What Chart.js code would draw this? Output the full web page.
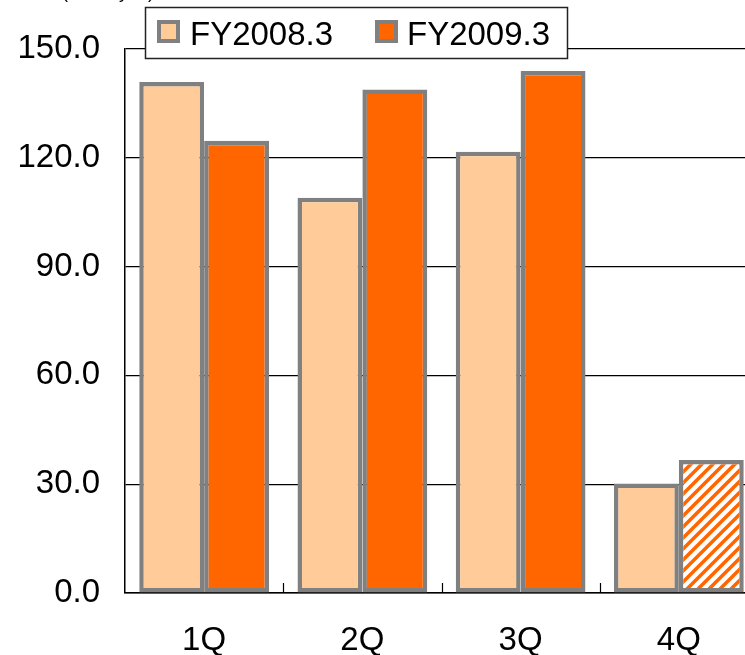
<!DOCTYPE html>
<html>
<head>
<meta charset="utf-8">
<script src="https://cdn.jsdelivr.net/npm/chart.js@4"></script>
<style>
  html, body { margin: 0; padding: 0; overflow: hidden; background: #fff; }
  #wrap { position: absolute; left: 0; top: 0; width: 760px; height: 655px; }
</style>
</head>
<body>
<div id="wrap"><canvas id="c" width="760" height="655"></canvas></div>
<script>
// Quarterly figures, two fiscal years
const categories = ['1Q', '2Q', '3Q', '4Q'];
const fy2008 = [140.9, 109.0, 121.7, 30.2];
const fy2009 = [124.7, 138.8, 143.9, 36.7];
const seriesNames = ['FY2008.3', 'FY2009.3'];
const yTicks = [0, 30, 60, 90, 120, 150];
const unitLabel = '(billion yen)';

const FONT = '"Liberation Sans", Arial, sans-serif';
const FS = 33;
const LIGHT = '#FFCC99';
const DARK = '#FF6600';
const EDGE = '#808080';

const ctx0 = document.getElementById('c').getContext('2d');

// Diagonal hatch used for the forecast quarter
const hatchPattern = ctx0.createPattern((() => {
  const s = 11;
  const t = document.createElement('canvas');
  t.width = s; t.height = s;
  const g = t.getContext('2d');
  g.fillStyle = '#fff';
  g.fillRect(0, 0, s, s);
  g.strokeStyle = DARK;
  g.lineWidth = 3.6;
  g.beginPath();
  for (let k = -1; k <= 1; k++) {
    g.moveTo(k * s - 1, s + 1);
    g.lineTo(k * s + s + 1, -1);
  }
  g.stroke();
  return t;
})(), 'repeat');

const darkFills = fy2009.map((v, i) => i === fy2009.length - 1 ? hatchPattern : DARK);

// Short inside tick marks between categories on the x axis
const boundaryTicks = {
  id: 'boundaryTicks',
  afterDatasetsDraw(chart) {
    const x = chart.scales.x, a = chart.chartArea, c = chart.ctx;
    c.save();
    c.strokeStyle = '#000';
    c.lineWidth = 1.2;
    c.beginPath();
    for (let i = 1; i < categories.length; i++) {
      const px = Math.round((x.getPixelForValue(i - 1) + x.getPixelForValue(i)) / 2) + 0.5;
      c.moveTo(px, a.bottom);
      c.lineTo(px, a.bottom - 10);
    }
    c.stroke();
    c.restore();
  }
};

// Boxed legend sitting over the top of the plot, plus the unit caption
const boxLegend = {
  id: 'boxLegend',
  afterDraw(chart) {
    const c = chart.ctx;
    c.save();
    c.font = '18px ' + FONT;
    c.fillStyle = '#000';
    c.textAlign = 'right';
    c.textBaseline = 'alphabetic';
    c.fillText(unitLabel, 154, -2);

    c.fillStyle = '#fff';
    c.fillRect(145, 7, 423, 52);
    c.strokeStyle = '#222';
    c.lineWidth = 1.5;
    c.strokeRect(145.5, 7.5, 422, 51);

    const items = [
      { sx: 157, tx: 190, fill: LIGHT, label: seriesNames[0] },
      { sx: 375, tx: 407, fill: DARK, label: seriesNames[1] }
    ];
    c.font = FS + 'px ' + FONT;
    c.textAlign = 'left';
    items.forEach(it => {
      c.fillStyle = EDGE;
      c.fillRect(it.sx, 20, 23, 23);
      c.fillStyle = it.fill;
      c.fillRect(it.sx + 4, 24, 15, 15);
      c.fillStyle = '#000';
      c.fillText(it.label, it.tx, 45);
    });
    c.restore();
  }
};

new Chart(ctx0, {
  type: 'bar',
  data: {
    labels: categories,
    datasets: [
      {
        label: seriesNames[0],
        data: fy2008,
        backgroundColor: LIGHT,
        borderColor: EDGE,
        borderWidth: 4.5,
        borderSkipped: false,
        categoryPercentage: 0.82,
        barPercentage: 1.0
      },
      {
        label: seriesNames[1],
        data: fy2009,
        backgroundColor: darkFills,
        borderColor: EDGE,
        borderWidth: 4.5,
        borderSkipped: false,
        categoryPercentage: 0.82,
        barPercentage: 1.0
      }
    ]
  },
  options: {
    responsive: false,
    animation: false,
    layout: { padding: { top: 49, right: 2, left: 0, bottom: 0 } },
    plugins: { legend: { display: false }, tooltip: { enabled: false } },
    scales: {
      x: {
        grid: { display: false, drawTicks: false },
        border: { display: true, color: '#000', width: 1.5 },
        ticks: { color: '#000', font: { family: FONT, size: FS }, padding: 28 },
        afterFit(s) { s.height = 62; }
      },
      y: {
        min: 0,
        max: 150,
        afterBuildTicks(s) { s.ticks = yTicks.map(v => ({ value: v })); },
        grid: { color: '#000', lineWidth: 1.2, drawTicks: false },
        border: { display: true, color: '#000', width: 1.5 },
        ticks: {
          color: '#000',
          font: { family: FONT, size: FS },
          padding: 25,
          callback: v => Number(v).toFixed(1)
        },
        afterFit(s) { s.width = 125; }
      }
    }
  },
  plugins: [boundaryTicks, boxLegend]
});
</script>
</body>
</html>
